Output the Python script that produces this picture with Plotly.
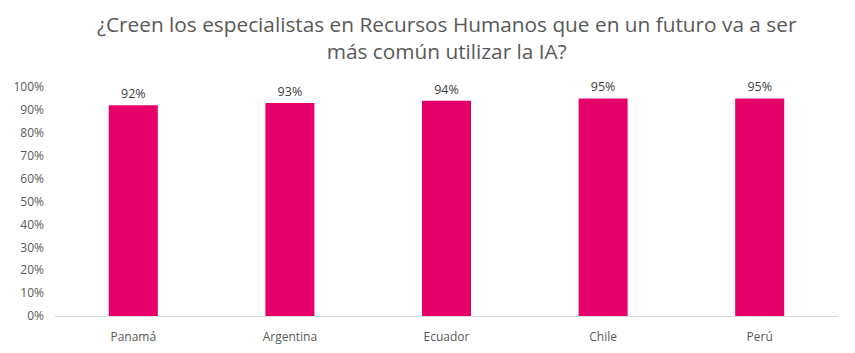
import plotly.graph_objects as go

categories = ["Panamá", "Argentina", "Ecuador", "Chile", "Perú"]
values = [0.92, 0.93, 0.94, 0.95, 0.95]
tick_vals = [0, 0.1, 0.2, 0.3, 0.4, 0.5, 0.6, 0.7, 0.8, 0.9, 1.0]
tick_text = ["0%", "10%", "20%", "30%", "40%", "50%", "60%", "70%", "80%", "90%", "100%"]
title_text = "¿Creen los especialistas en Recursos Humanos que en un futuro va a ser<br>más común utilizar la IA?"

fig = go.Figure(go.Bar(
    x=categories, y=values,
    marker=dict(color="#E5006A", line=dict(width=0)),
    width=0.313,
    text=[f"{round(v*100)}%" for v in values],
    textposition="outside",
    textfont=dict(family="Open Sans", size=12.5, color="#404040"),
    cliponaxis=False,
))

fig.update_layout(
    width=855, height=353,
    margin=dict(l=55, r=17, t=87, b=37),
    paper_bgcolor="white", plot_bgcolor="white",
    showlegend=False,
    bargap=0.687,
    annotations=[dict(text=title_text, xref="paper", yref="paper", x=0.5, y=1.215,
                      xanchor="center", yanchor="middle", showarrow=False,
                      font=dict(family="Open Sans", size=20.8, color="#595959"))],
)
fig.update_xaxes(showline=True, linecolor="#D9D9D9", linewidth=1, ticks="",
                 ticklabelstandoff=10, automargin=False,
                 tickfont=dict(family="Open Sans", size=12, color="#595959"),
                 showgrid=False)
fig.update_yaxes(range=[0, 1.0], tickvals=tick_vals, ticktext=tick_text,
                 ticklabelstandoff=10, automargin=False,
                 showgrid=False, zeroline=False, showline=False,
                 tickfont=dict(family="Open Sans", size=12, color="#595959"))

fig.write_html("out.html")
